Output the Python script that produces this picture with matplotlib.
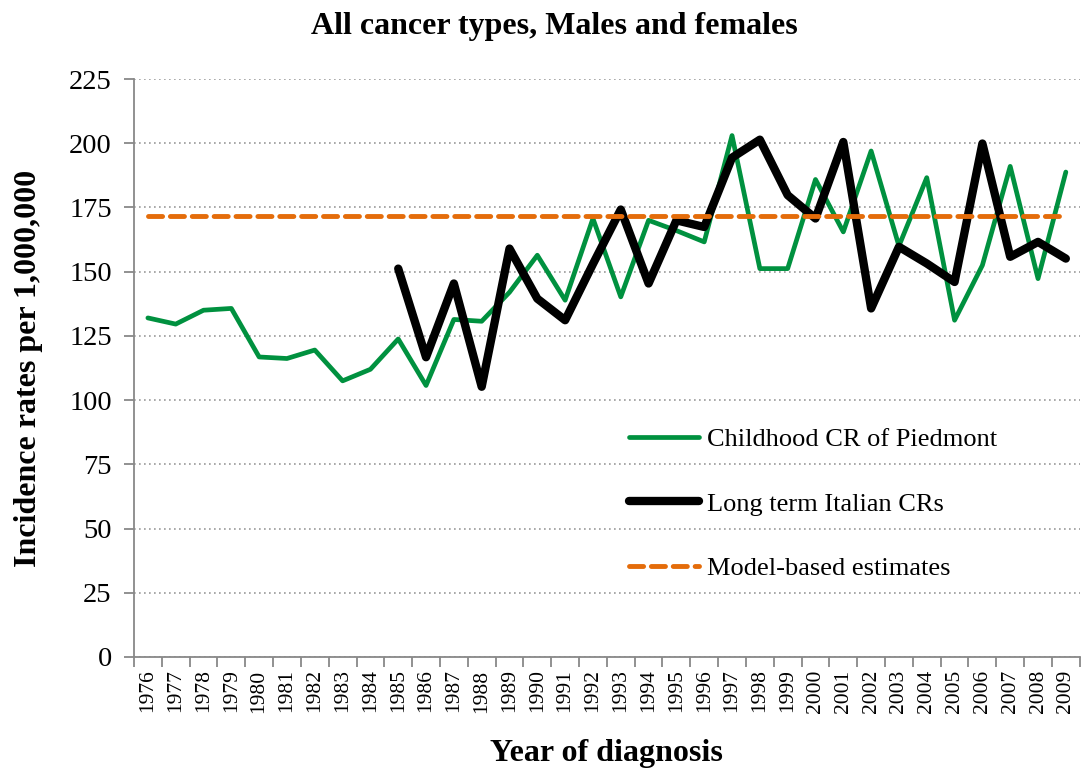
import matplotlib
matplotlib.use("Agg")
import matplotlib.pyplot as plt
import numpy as np

plt.rcParams['font.family'] = ['Liberation Serif', 'DejaVu Serif']

# Data
years = list(range(1976, 2010))
piedmont = [132, 129.6, 135, 135.7, 116.8, 116.2, 119.5, 107.5, 112, 123.8,
            105.7, 131.4, 130.7, 142, 156.4, 138.9, 170.7, 140.2, 170, 166,
            161.6, 203, 151.2, 151.2, 185.9, 165.5, 197, 160, 186.6, 131.1,
            152.5, 191, 147.3, 188.8]
italian_years = list(range(1985, 2010))
italian = [151.2, 116.7, 145.4, 105.2, 159, 139.5, 131.1, 153, 174.2, 145.4,
           170, 167.4, 194.4, 201.4, 179.8, 170.7, 200.5, 135.7, 159.7, 153.2,
           146, 199.9, 155.8, 161.6, 155.1]
model_estimate = 171.5

x_all = np.arange(len(years))
x_it = np.array([years.index(y) for y in italian_years])

fig = plt.figure(figsize=(10.83, 7.72), dpi=100)
ax = fig.add_axes([0.1237, 0.149, 0.8733, 0.7486])

ax.plot(x_all, piedmont, color='#00913F', lw=3.4, label='Childhood CR of Piedmont',
        solid_joinstyle='round', solid_capstyle='round', zorder=3)
ax.plot(x_it, italian, color='black', lw=6, label='Long term Italian CRs',
        solid_joinstyle='round', solid_capstyle='round', zorder=4)
ax.plot(x_all, [model_estimate] * len(years), color='#E46C0A', lw=3.5,
        dashes=(2.9, 1.6), dash_capstyle='round', label='Model-based estimates', zorder=5)

ax.set_xlim(-0.5, len(years) - 0.5)
ax.set_ylim(0, 225)
ax.set_yticks(np.arange(0, 226, 25))
ax.yaxis.grid(True, color='#999999', linestyle=(0, (1, 2)), lw=1.2)
ax.set_axisbelow(True)

ax.set_xticks(x_all)
ax.set_xticklabels([str(y) for y in years], rotation=90, fontsize=15.5)
ax.set_xticks(np.arange(-0.5, len(years), 1), minor=True)
ax.tick_params(axis='x', which='major', length=0, pad=9)
ax.tick_params(axis='x', which='minor', length=7, color='#888888', width=1.3, direction='out')
ax.tick_params(axis='y', labelsize=20.5, length=7, color='#888888', width=1.3, pad=9)

for s in ['top', 'right']:
    ax.spines[s].set_visible(False)
for s in ['left', 'bottom']:
    ax.spines[s].set_color('#888888')
    ax.spines[s].set_linewidth(1.3)

fig.suptitle('All cancer types, Males and females', fontsize=23, fontweight='bold',
             x=0.5115, y=0.985, va='top')
ax.set_xlabel('Year of diagnosis', fontsize=23, fontweight='bold', labelpad=19)
ax.set_ylabel('Incidence rates per 1,000,000', fontsize=23, fontweight='bold', labelpad=19)

ax.legend(loc='upper left', bbox_to_anchor=(0.5685, 0.463), bbox_transform=fig.transFigure,
          frameon=False, fontsize=19, labelspacing=1.55, handlelength=2.65,
          handletextpad=0.3, borderpad=0)

fig.savefig('out.png', dpi=100)
